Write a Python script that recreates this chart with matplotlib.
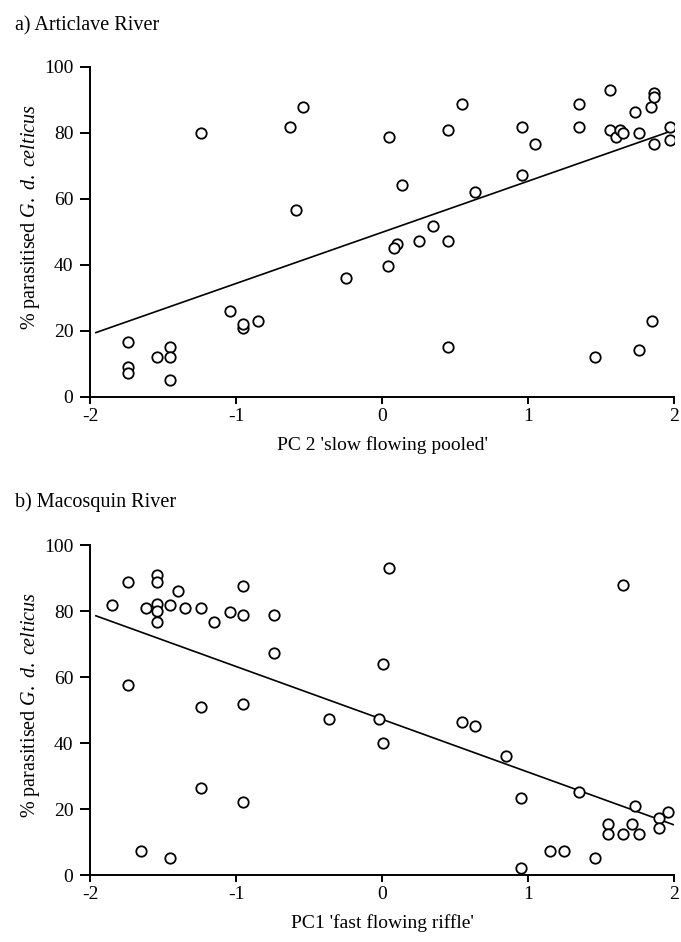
import numpy as np
from matplotlib import pyplot as plt

plt.rcParams["font.family"] = ["Liberation Serif", "DejaVu Serif"]
plt.rcParams["mathtext.fontset"] = "custom"
plt.rcParams["mathtext.it"] = "Liberation Serif:italic"
plt.rcParams["mathtext.rm"] = "Liberation Serif"

# a) Articlave River, PC 2 scores vs % parasitised
pc2_articlave = [-1.74, -1.74, -1.74, -1.54, -1.45, -1.45, -1.45, -1.24, -1.04, -0.95,
                 -0.95, -0.85, -0.63, -0.54, -0.59, -0.25, 0.05, 0.14, 0.10, 0.08,
                 0.04, 0.25, 0.35, 0.45, 0.45, 0.45, 0.55, 0.64, 0.96, 0.96,
                 1.05, 1.35, 1.35, 1.46, 1.56, 1.56, 1.60, 1.63, 1.65, 1.73,
                 1.76, 1.76, 1.84, 1.86, 1.86, 1.86, 1.85, 1.97, 1.97]
para_articlave = [16.6, 8.9, 7.3, 11.9, 15.2, 11.9, 5.1, 79.8, 26.1, 20.7,
                  21.9, 22.9, 81.8, 87.7, 56.6, 36.0, 78.6, 64.1, 46.2, 45.0,
                  39.7, 47.2, 51.8, 47.2, 80.8, 15.2, 88.7, 61.9, 81.8, 67.2,
                  76.6, 88.7, 81.8, 12.1, 92.9, 80.8, 78.6, 80.8, 79.8, 86.2,
                  79.8, 14.2, 87.7, 91.9, 90.9, 76.6, 23.0, 81.8, 77.8]
fit_articlave = (15.5, 49.8)  # slope, intercept

# b) Macosquin River, PC1 scores vs % parasitised
pc1_macosquin = [-1.85, -1.74, -1.74, -1.65, -1.54, -1.54, -1.54, -1.54, -1.54, -1.62,
                 -1.45, -1.45, -1.40, -1.35, -1.24, -1.24, -1.24, -1.15, -1.04, -0.95,
                 -0.95, -0.95, -0.95, -0.74, -0.74, -0.36, 0.05, 0.01, -0.02, 0.01,
                 0.55, 0.64, 0.85, 0.95, 0.95, 1.15, 1.25, 1.35, 1.46, 1.55,
                 1.55, 1.65, 1.65, 1.71, 1.73, 1.76, 1.90, 1.90, 1.96]
para_macosquin = [81.8, 88.9, 57.7, 7.4, 90.9, 88.9, 82.0, 80.0, 76.6, 80.8,
                  81.8, 5.3, 86.2, 80.8, 80.8, 50.8, 26.3, 76.6, 79.8, 87.7,
                  78.8, 51.8, 22.0, 78.8, 67.2, 47.3, 93.0, 64.1, 47.3, 39.9,
                  46.3, 45.2, 36.2, 23.2, 2.0, 7.4, 7.4, 25.3, 5.3, 15.4,
                  12.3, 87.9, 12.3, 15.4, 21.0, 12.3, 17.2, 14.3, 19.0]
fit_macosquin = (-16.0, 47.2)

line_x = np.array([-1.96, 2.0])

fig = plt.figure(figsize=(6.81, 9.42), dpi=100)
ax1 = fig.add_axes([0.1322, 0.5789, 0.8575, 0.3503])
ax2 = fig.add_axes([0.1322, 0.0711, 0.8575, 0.3503])

panels = [
    (ax1, pc2_articlave, para_articlave, fit_articlave, "PC 2 'slow flowing pooled'",
     "a) Articlave River", 0.968, 0.545),
    (ax2, pc1_macosquin, para_macosquin, fit_macosquin, "PC1 'fast flowing riffle'",
     "b) Macosquin River", 0.462, 0.515),
]

for ax, x, y, fit, xlabel, title, ty, ly in panels:
    ax.plot(x, y, "o", mfc="white", mec="black", mew=1.3, ms=7.5, ls="none", zorder=3)
    ax.plot(line_x, fit[0] * line_x + fit[1], "k-", lw=1.2, zorder=2)

    ax.set_xlim(-2, 2)
    ax.set_ylim(0, 100)
    ax.set_xticks([-2, -1, 0, 1, 2])
    ax.set_xticklabels(["-2", "-1", "0", "1", "2"])
    ax.set_yticks([0, 20, 40, 60, 80, 100])

    for s in ["top", "right"]:
        ax.spines[s].set_visible(False)
    for s in ["left", "bottom"]:
        ax.spines[s].set_linewidth(1.4)
    ax.tick_params(axis="x", direction="out", length=5, width=1.4, pad=3, labelsize=14)
    ax.tick_params(axis="y", direction="out", length=7, width=1.4, pad=5, labelsize=14)

    ax.set_xlabel(xlabel, fontsize=14, labelpad=8)
    ax.set_ylabel(r"% parasitised $G.\ d.\ celticus$", fontsize=14.5)
    ax.yaxis.set_label_coords(-0.083, ly)

    fig.text(0.022, ty, title, fontsize=14.5, ha="left", va="baseline")

plt.savefig("out.png", dpi=100)
